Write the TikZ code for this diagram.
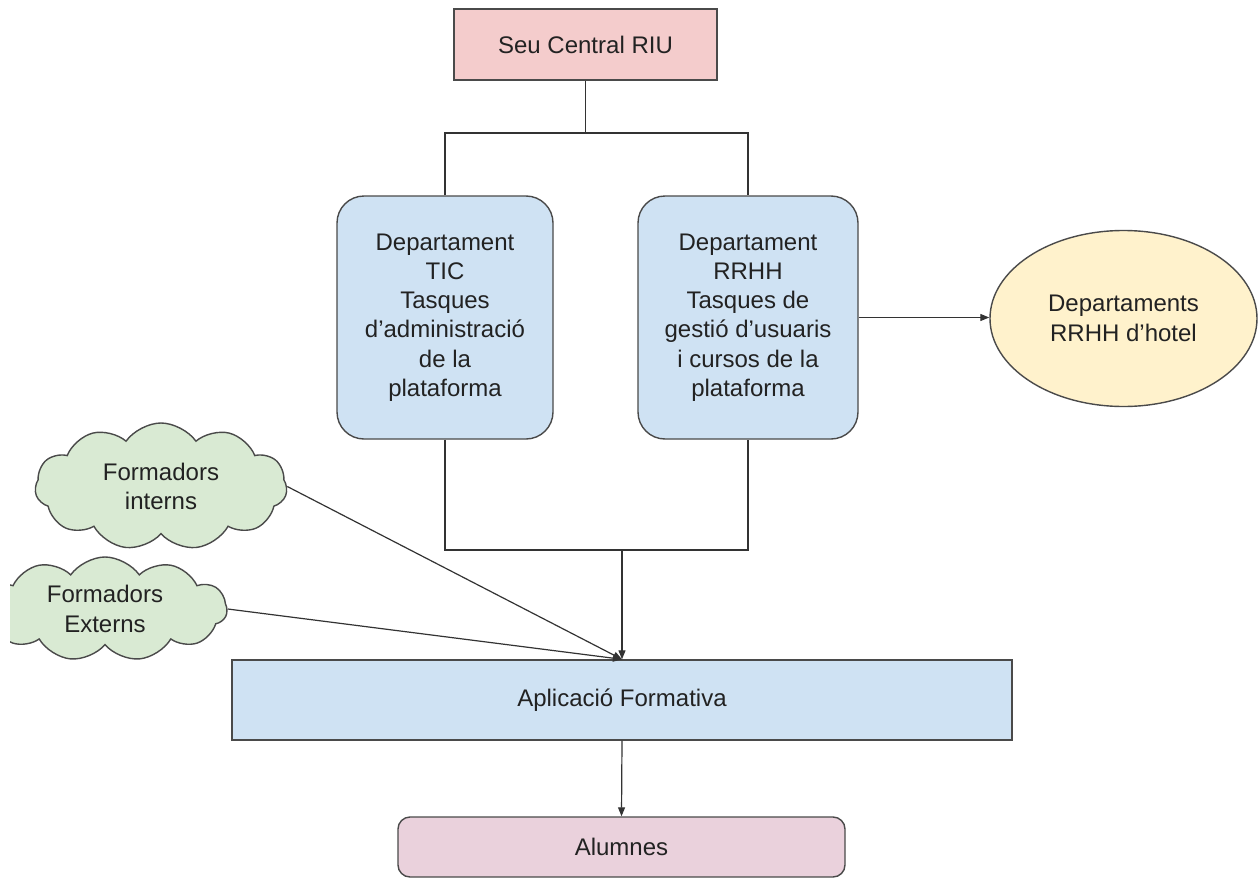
\documentclass[tikz,border=0pt]{standalone}
\usepackage{fontspec}
\setmainfont{Liberation Sans}
\usetikzlibrary{arrows.meta,shapes.symbols,shapes.geometric}
\definecolor{pinkfill}{HTML}{F4CCCC}
\definecolor{bluefill}{HTML}{CFE2F3}
\definecolor{yellowfill}{HTML}{FFF2CC}
\definecolor{magfill}{HTML}{EAD1DC}
\definecolor{greenfill}{HTML}{D9EAD3}
\definecolor{edge}{HTML}{4A4A4A}
\definecolor{txt}{HTML}{222222}
\tikzset{
  every node/.style={font=\fontsize{24}{29.3}\selectfont, text=txt, inner sep=0pt, align=center},
  box/.style={draw=edge, line width=1.4pt},
  conn/.style={draw=black!80, line width=1.2pt},
  arr/.style={conn, -{Triangle[length=9pt,width=7pt]}},
  puff/.style={box, cloud, cloud puffs=11, cloud puff arc=110, cloud ignores aspect, fill=greenfill}
}
\begin{document}
\begin{tikzpicture}[x=1pt,y=-1pt]
\useasboundingbox[fill=white] (0,0) rectangle (1259,886);

\node[box, fill=pinkfill, minimum width=263pt, minimum height=71pt] (seu) at (585.5,44.5) {Seu Central RIU};

\node[box, fill=bluefill, rounded corners=27pt, minimum width=216pt, minimum height=243pt] (tic) at (445,317.5)
  {Departament\\TIC\\Tasques\\d’administració\\de la\\plataforma};
\node[box, fill=bluefill, rounded corners=27pt, minimum width=220pt, minimum height=243pt] (rrhh) at (748,317.5)
  {Departament\\RRHH\\Tasques de\\gestió d’usuaris\\i cursos de la\\plataforma};

\node[box, fill=yellowfill, ellipse, minimum width=267pt, minimum height=176pt] (hotel) at (1123.5,318.5)
  {Departaments\\RRHH d’hotel};

\node[box, fill=bluefill, minimum width=780pt, minimum height=80pt] (app) at (622,700) {Aplicació Formativa};

\node[box, fill=magfill, rounded corners=12pt, minimum width=447pt, minimum height=60pt] (alu) at (621.5,847) {Alumnes};

\node[puff, minimum width=252pt, minimum height=127pt] (ci) at (161,486.5) {Formadors\\interns};
\begin{scope}
\clip (10,0) rectangle (1259,886);
\node[puff, minimum width=244pt, minimum height=104pt] (ce) at (105,609) {Formadors\\Externs};
\end{scope}

\coordinate (j1) at (585.5,133);
\coordinate (j2) at (622,550);

\draw[conn] (seu.south) -- (j1);
\draw[conn] (tic.north) |- (j1) -| (rrhh.north);
\draw[conn] (tic.south) |- (j2) -| (rrhh.south);
\draw[arr] (j2) -- (app.north);
\draw[arr] (rrhh.east) -- (rrhh.east -| hotel.west);
\draw[arr] (ci.east) -- (app.north);
\draw[arr] (ce.east) -- (app.north);
\draw[arr] (app.south) -- (alu.north);
\end{tikzpicture}
\end{document}
